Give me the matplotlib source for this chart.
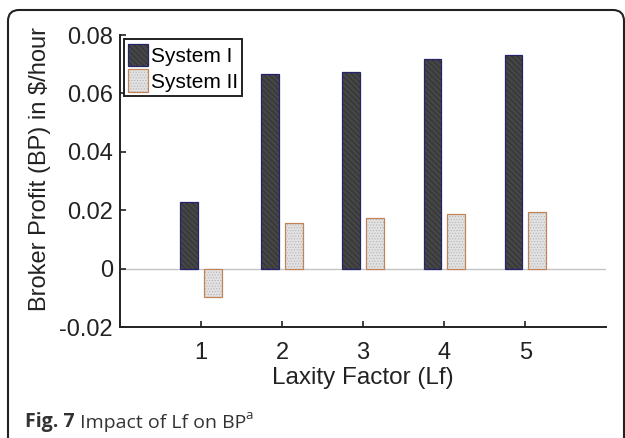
import matplotlib
matplotlib.use("Agg")
import matplotlib.pyplot as plt
import numpy as np
from matplotlib.patches import FancyBboxPatch
from matplotlib.transforms import IdentityTransform

# Broker profit ($/hour) per laxity factor
laxity = [1, 2, 3, 4, 5]
system_1 = [0.0227, 0.0668, 0.0675, 0.0718, 0.0731]
system_2 = [-0.0097, 0.0155, 0.0174, 0.0186, 0.0195]
series_names = ["System I", "System II"]
y_ticks = [-0.02, 0, 0.02, 0.04, 0.06, 0.08]

plt.rcParams["font.family"] = ["Liberation Sans", "DejaVu Sans"]
plt.rcParams["hatch.linewidth"] = 0.5

fig = plt.figure(figsize=(6.25, 4.38), dpi=100)
ax = fig.add_axes([0.192, 0.2534, 0.778, 0.6666])

x = np.array(laxity, dtype=float)
width = 0.22
offset = 0.145

styles = [
    dict(face="#454545", hatch="\\\\\\\\\\\\", hatch_col="#2c2c2c", edge="#23236e"),
    dict(face="#e2e2e2", hatch="......", hatch_col="#b4b4b4", edge="#c2825a"),
]

handles = []
for vals, pos, st in zip([system_1, system_2], [x - offset, x + offset], styles):
    filled = ax.bar(pos, vals, width, color=st["face"], hatch=st["hatch"],
                    edgecolor=st["hatch_col"], linewidth=0, zorder=2)
    outline = ax.bar(pos, vals, width, fill=False, edgecolor=st["edge"],
                     linewidth=0.9, zorder=3)
    handles.append((filled, outline))

ax.axhline(0, color="#c4c4c4", linewidth=1.0, zorder=1)

ax.set_xlim(0, 6)
ax.set_ylim(-0.02, 0.08)
ax.set_xticks(laxity)
ax.set_yticks(y_ticks)
ax.set_yticklabels(["-0.02", "0", "0.02", "0.04", "0.06", "0.08"])

for side in ["top", "right"]:
    ax.spines[side].set_visible(False)
for side in ["left", "bottom"]:
    ax.spines[side].set_linewidth(1.4)
    ax.spines[side].set_color("#222222")

ax.tick_params(axis="both", direction="in", length=4, width=1.2,
               labelsize=17, colors="#222222")
ax.tick_params(axis="x", pad=11)
ax.tick_params(axis="y", pad=5)

ax.set_xlabel("Laxity Factor (Lf)", fontsize=17.5, color="#222222", labelpad=2)
ax.set_ylabel("Broker Profit (BP) in $/hour", fontsize=17, color="#222222")
ax.yaxis.set_label_coords(-0.142, 0.54)

leg = ax.legend(handles, series_names, loc="upper left",
                bbox_to_anchor=(0.008, 0.985), borderaxespad=0,
                fontsize=15, frameon=True, fancybox=False,
                edgecolor="#222222", framealpha=1,
                handlelength=0.95, handleheight=1.3, handletextpad=0.15,
                borderpad=0.2, labelspacing=0.15)
leg.get_frame().set_linewidth(1.4)

# caption beneath the chart
cap = fig.text(25 / 625, 1 - 422 / 438, "Fig. 7", fontsize=14,
               family="Open Sans", weight="bold", color="#333333",
               va="center", ha="left")
cap2 = fig.text(0, 0, " Impact of Lf on BP", fontsize=14,
                family="Open Sans", color="#333333")
cap2.set_transform(IdentityTransform())
fig.canvas.draw()
bb = cap.get_window_extent()
cap2.set_position((bb.x1, bb.y0))
cap2.set_va("bottom")
fig.canvas.draw()
bb2 = cap2.get_window_extent()
sup = fig.text(bb2.x1, bb2.y0 + 10, "a", fontsize=9.5,
               family="Open Sans", color="#333333", va="bottom")
sup.set_transform(IdentityTransform())

# rounded frame around the figure
frame = FancyBboxPatch((8, -30), 616, 438 - 10 + 30,
                       boxstyle="round,pad=0,rounding_size=11",
                       transform=IdentityTransform(), fill=False,
                       edgecolor="#222222", linewidth=1.5)
fig.patches.append(frame)

fig.savefig("out.png", dpi=100)
